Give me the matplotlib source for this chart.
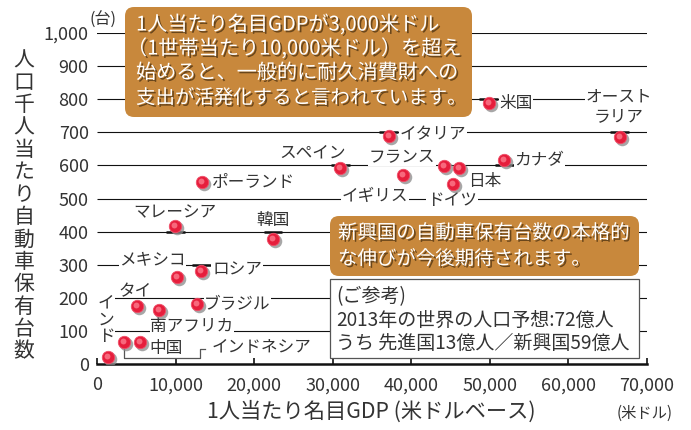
import matplotlib
matplotlib.use("Agg")
import matplotlib.pyplot as plt
import matplotlib.patheffects as pe
from matplotlib.patches import FancyBboxPatch, Rectangle
from matplotlib.transforms import offset_copy

plt.rcParams['font.family'] = ['Noto Sans CJK JP', 'DejaVu Sans']

# ---- data ----
countries = ["インド", "インドネシア", "中国", "タイ", "南アフリカ", "メキシコ", "マレーシア",
             "ブラジル", "ロシア", "韓国", "ポーランド", "スペイン", "イタリア", "イギリス",
             "フランス", "ドイツ", "日本", "米国", "カナダ", "オーストラリア"]
gdp = [1400, 3450, 5500, 5050, 7950, 10150, 9950, 12700, 13250, 22400, 13350,
       30950, 37100, 38950, 44200, 45250, 46100, 49850, 51850, 66550]
cars = [22, 67, 67, 175, 163, 264, 418, 180, 281, 377, 551, 591, 690, 571, 599,
        544, 593, 788, 616, 687]

xticks = [0, 10000, 20000, 30000, 40000, 50000, 60000, 70000]
xtick_labels = ["0", "10,000", "20,000", "30,000", "40,000", "50,000", "60,000", "70,000"]
yticks = [0, 100, 200, 300, 400, 500, 600, 700, 800, 900, 1000]
ytick_labels = ["0", "100", "200", "300", "400", "500", "600", "700", "800", "900", "1,000"]

W, H = 691, 430
fig = plt.figure(figsize=(W / 100, H / 100), dpi=100)
ax = fig.add_axes([97 / W, (H - 364) / H, 550 / W, 331 / H])
ax.set_xlim(0, 70000)
ax.set_ylim(0, 1000)
ax.patch.set_alpha(0)

TXT = '#333333'

# gridlines
for v in yticks[1:]:
    ax.hlines(v, 0, 70000, color='#111111', lw=1.5 if v == 1000 else 0.8, zorder=1)

for s in ['left', 'right', 'top']:
    ax.spines[s].set_visible(False)
ax.spines['bottom'].set_linewidth(1.8)
ax.spines['bottom'].set_color('#111111')
ax.spines['bottom'].set_zorder(6)

ax.set_xticks(xticks)
ax.set_xticklabels(xtick_labels)
ax.set_yticks(yticks)
ax.set_yticklabels(ytick_labels)
ax.tick_params(axis='x', direction='in', length=4, width=1.2, color='#111111',
               labelsize=13, labelcolor=TXT, pad=9)
ax.tick_params(axis='y', length=0, labelsize=13, labelcolor=TXT, pad=6)

# short dashes where points sit on gridlines
for i, name in enumerate(countries):
    if name in ["マレーシア", "韓国", "ロシア", "スペイン", "イタリア", "米国", "オーストラリア", "カナダ"]:
        gy = round(cars[i] / 100) * 100
        ax.plot([gdp[i] - 1200, gdp[i] + 1200], [gy, gy], color='#111111', lw=1.8,
                zorder=3, solid_capstyle='butt')

# points with shadow
shadow_tr = offset_copy(ax.transData, fig=fig, x=2, y=-2, units='dots')
ax.scatter(gdp, cars, s=95, color='#8a8a8a', alpha=0.75, transform=shadow_tr,
           zorder=7, linewidths=0)
ax.scatter(gdp, cars, s=80, color='#e61e3c', edgecolors='#f0506a', linewidths=0.6, zorder=8)
hl_tr = offset_copy(ax.transData, fig=fig, x=-1, y=1, units='dots')
ax.scatter(gdp, cars, s=18, color='#f7687c', linewidths=0, zorder=9, transform=hl_tr)

# labels
wb = dict(facecolor='white', edgecolor='none', pad=0.5)
lab = [
    ("マレーシア", 9930, 456, 'center', False),
    ("韓国", 22360, 435, 'center', False),
    ("メキシコ", 11300, 314, 'right', True),
    ("ロシア", 14650, 284, 'left', True),
    ("タイ", 4840, 217, 'center', False),
    ("ブラジル", 13650, 178, 'left', True),
    ("南アフリカ", 12090, 112, 'center', True),
    ("中国", 8780, 48, 'center', False),
    ("インドネシア", 14600, 51, 'left', False),
    ("ポーランド", 14650, 547, 'left', False),
    ("スペイン", 27490, 637, 'center', False),
    ("イタリア", 38500, 692, 'left', True),
    ("米国", 51200, 788, 'left', True),
    ("フランス", 38820, 625, 'center', True),
    ("イギリス", 35380, 505, 'center', True),
    ("ドイツ", 45180, 495, 'center', True),
    ("日本", 49380, 550, 'center', False),
    ("カナダ", 53100, 616, 'left', True),
]
for t, x, y, ha, bg in lab:
    ax.text(x, y, t, ha=ha, va='center', fontsize=12, color=TXT, zorder=5,
            bbox=wb if bg else None)
ax.text(66440, 777, "オースト\nラリア", ha='center', va='center', fontsize=12, color=TXT,
        zorder=5, bbox=wb, linespacing=1.2)
for t, y in [("イ", 184), ("ン", 133), ("ド", 82)]:
    ax.text(1150, y, t, ha='center', va='center', fontsize=12, color=TXT, zorder=5, bbox=wb)

# bracket for Indonesia
ax.plot([3450, 3450, 13120, 13120, 13800], [55, 18, 18, 45, 45], color='#555555',
        lw=0.9, zorder=4)

# axis texts
fig.text(24 / W, 1 - 206 / H, "\n".join("人口千人当たり自動車保有台数"), ha='center',
         va='center', fontsize=15, color=TXT, linespacing=1.02)
fig.text(371 / W, 1 - 412 / H, "1人当たり名目GDP (米ドルベース)", ha='center', va='center',
         fontsize=15.3, color=TXT)
fig.text(645 / W, 1 - 413 / H, "(米ドル)", ha='center', va='center', fontsize=11, color=TXT)
fig.text(103 / W, 1 - 20 / H, "(台)", ha='center', va='center', fontsize=11.5, color=TXT)

# callout boxes
def fbox(x0, y0, x1, y1, fc, ec='none', lw=0, r=9):
    p = FancyBboxPatch((x0 / W, 1 - y1 / H), (x1 - x0) / W, (y1 - y0) / H,
                       boxstyle=f"round,pad=0,rounding_size={r / W}",
                       transform=fig.transFigure, facecolor=fc, edgecolor=ec, lw=lw,
                       zorder=10, clip_on=False,
                       mutation_aspect=W / H)
    ax.add_patch(p)

BOX = '#c8883c'
shadow = [pe.SimplePatchShadow(offset=(1.3, -1.3), shadow_rgbFace='#4a3010', alpha=0.75),
          pe.Normal()]
fbox(125, 7, 472, 117, BOX)
for t, x, y, fs in [("1人当たり名目GDPが3,000米ドル", 136, 25, 14.5),
                    ("（1世帯当たり10,000米ドル）を超え", 127, 49, 14.5),
                    ("始めると、一般的に耐久消費財への", 136, 73, 14.5),
                    ("支出が活発化すると言われています。", 136, 98, 14)]:
    txt = ax.text(x / W, 1 - y / H, t, transform=fig.transFigure, ha='left', va='center',
                  fontsize=fs, color='white', zorder=11)
    txt.set_path_effects(shadow)

fbox(330, 216, 639, 276, BOX)
for t, y in [("新興国の自動車保有台数の本格的", 233), ("な伸びが今後期待されます。", 259)]:
    txt = ax.text(338 / W, 1 - y / H, t, transform=fig.transFigure, ha='left', va='center',
                  fontsize=14, color='white', zorder=11)
    txt.set_path_effects(shadow)

r = Rectangle((330 / W, 1 - 358 / H), 309 / W, 79 / H, transform=fig.transFigure,
              facecolor='white', edgecolor='#555555', lw=0.9, zorder=10, clip_on=False)
ax.add_patch(r)
for t, y in [("(ご参考)", 297), ("2013年の世界の人口予想:72億人", 320),
             ("うち 先進国13億人／新興国59億人", 343)]:
    ax.text(336 / W, 1 - y / H, t, transform=fig.transFigure, ha='left', va='center',
            fontsize=13.7, color=TXT, zorder=11)

fig.savefig("out.png", dpi=100)
